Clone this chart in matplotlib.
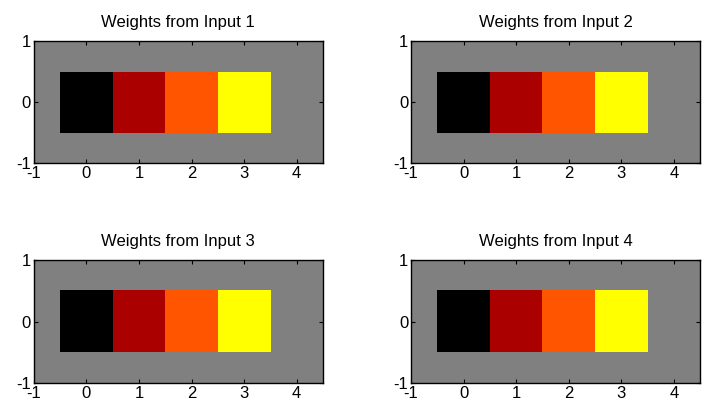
import matplotlib
matplotlib.use('Agg')
import matplotlib.pyplot as plt
import numpy as np
from matplotlib.colors import ListedColormap

plt.rcParams['font.family'] = ['Liberation Sans', 'DejaVu Sans']
plt.rcParams['axes.unicode_minus'] = False

# weights of the 4 hidden neurons for each input (rendered through the colormap)
weights_1 = [0, 1, 2, 3]
weights_2 = [0, 1, 2, 3]
weights_3 = [0, 1, 2, 3]
weights_4 = [0, 1, 2, 3]
all_weights = [weights_1, weights_2, weights_3, weights_4]
titles = ['Weights from Input 1', 'Weights from Input 2',
          'Weights from Input 3', 'Weights from Input 4']
cell_colors = ['#000000', '#aa0000', '#ff5500', '#ffff00']
xticks = [-1, 0, 1, 2, 3, 4]
yticks = [-1, 0, 1]

cmap = ListedColormap(cell_colors)

fig = plt.figure(figsize=(7.05, 4.08), dpi=100)
positions = [
    [0.048, 0.600, 0.410, 0.299],
    [0.583, 0.600, 0.410, 0.299],
    [0.048, 0.061, 0.410, 0.301],
    [0.583, 0.061, 0.410, 0.301],
]

for pos, w, title in zip(positions, all_weights, titles):
    ax = fig.add_axes(pos)
    ax.set_facecolor('#808080')
    data = np.array(w, dtype=float).reshape(1, -1)
    n = data.shape[1]
    ax.imshow(data, cmap=cmap, vmin=min(w) - 0.5, vmax=max(w) + 0.5,
              extent=(-0.5, n - 0.5, -0.5, 0.5), aspect='auto',
              interpolation='nearest')
    ax.set_xlim(-1, 4.5)
    ax.set_ylim(-1, 1)
    ax.set_xticks(xticks)
    ax.set_yticks(yticks)
    ax.tick_params(direction='in', length=3, width=0.8, top=True, right=True,
                   labelsize=12, pad=2)
    for s in ax.spines.values():
        s.set_linewidth(1.0)
    ax.set_title(title, fontsize=12, pad=10)

fig.savefig('out.png', dpi=100)
